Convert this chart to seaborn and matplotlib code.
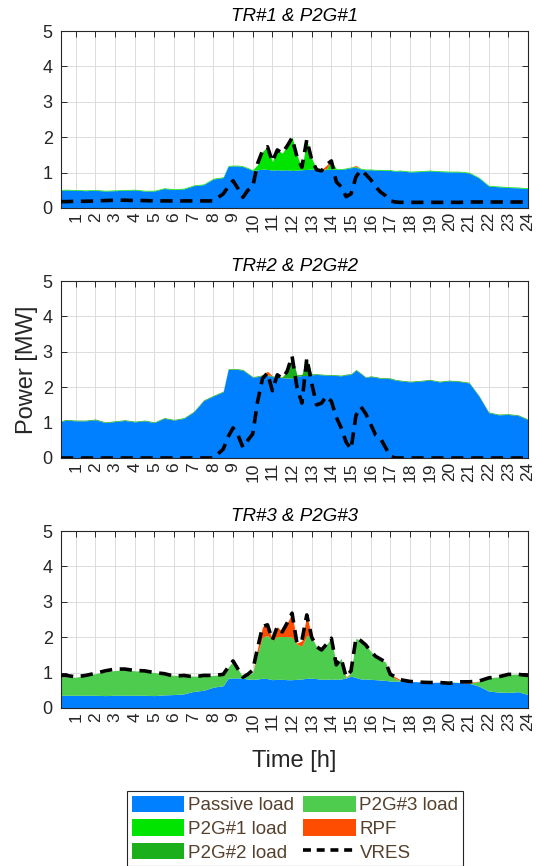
import numpy as np
import pandas as pd
import matplotlib
matplotlib.use("Agg")
import matplotlib.pyplot as plt
import seaborn as sns
from matplotlib.patches import Patch
from matplotlib.lines import Line2D

# ---------------- data ----------------
time_h = [0.25, 0.5, 1.0, 1.5, 2.0, 2.5, 3.0, 3.5, 4.0, 4.5, 5.0, 5.5, 6.0, 6.5, 7.0, 7.5, 8.0, 8.5,
          8.75, 9.0, 9.25, 9.5, 9.75, 10.0, 10.25, 10.5, 10.75, 11.0, 11.25, 11.5, 11.75, 12.0,
          12.25, 12.5, 12.75, 13.0, 13.25, 13.5, 13.75, 14.0, 14.25, 14.5, 14.75, 15.0, 15.25,
          15.5, 15.75, 16.0, 16.25, 16.5, 16.75, 17.0, 17.25, 17.5,
          18.0, 18.5, 19.0, 19.5, 20.0, 20.5, 21.0, 21.5, 22.0, 22.5, 23.0, 23.5, 24.0]

hour_ticks = list(range(1, 25))
y_ticks = [0, 1, 2, 3, 4, 5]
panel_titles = ["TR#1 & P2G#1", "TR#2 & P2G#2", "TR#3 & P2G#3"]
legend_labels = ["Passive load", "P2G#1 load", "P2G#2 load", "P2G#3 load", "RPF", "VRES"]

# Panel 1: TR#1 & P2G#1
passive_1 = [0.50, 0.51, 0.50, 0.49, 0.50, 0.48, 0.49, 0.50, 0.51, 0.48, 0.48, 0.55, 0.52, 0.54, 0.63, 0.66, 0.82, 0.86,
             1.18, 1.19, 1.19, 1.17, 1.12, 1.06, 1.08, 1.10, 1.09, 1.07, 1.08, 1.07, 1.08, 1.06,
             1.07, 1.08, 1.09, 1.10, 1.08, 1.07, 1.09, 1.10, 1.09, 1.09, 1.11, 1.14, 1.15,
             1.10, 1.08, 1.08, 1.07, 1.07, 1.06, 1.06, 1.04, 1.05,
             1.02, 1.03, 1.05, 1.03, 1.02, 1.02, 0.99, 0.85, 0.62, 0.60, 0.58, 0.57, 0.55]
p2g_1 = [0.02, 0.02, 0.02, 0.02, 0.02, 0.02, 0.02, 0.02, 0.02, 0.02, 0.02, 0.02, 0.02, 0.02, 0.02, 0.02, 0.02, 0.02,
         0.02, 0.02, 0.02, 0.02, 0.02, 0.02, 0.15, 0.50, 0.64, 0.24, 0.56, 0.48, 0.67, 0.95,
         0.43, 0.04, 0.84, 0.30, 0.02, 0.02, 0.02, 0.23, 0.02, 0.02, 0.02, 0.02, 0.02,
         0.02, 0.02, 0.02, 0.02, 0.02, 0.02, 0.02, 0.02, 0.02,
         0.02, 0.02, 0.02, 0.02, 0.02, 0.02, 0.02, 0.02, 0.02, 0.02, 0.02, 0.02, 0.02]
rpf_1 = [0.0] * 38 + [0.10] + [0.0] * 5 + [0.03] + [0.0] * 22
vres_1 = [0.18, 0.18, 0.19, 0.19, 0.20, 0.21, 0.22, 0.22, 0.21, 0.21, 0.20, 0.20, 0.20, 0.20, 0.20, 0.20, 0.20, 0.40,
          0.60, 0.77, 0.55, 0.30, 0.50, 0.60, 1.26, 1.62, 1.73, 1.31, 1.64, 1.55, 1.75, 1.98,
          1.45, 1.15, 1.93, 1.36, 1.08, 1.05, 1.22, 1.33, 0.74, 0.60, 0.32, 0.40, 0.88,
          1.07, 0.95, 0.80, 0.60, 0.45, 0.35, 0.20, 0.17, 0.16,
          0.16, 0.16, 0.16, 0.16, 0.16, 0.16, 0.17, 0.17, 0.17, 0.17, 0.17, 0.17, 0.17]

# Panel 2: TR#2 & P2G#2
passive_2 = [1.03, 1.07, 1.05, 1.05, 1.08, 1.00, 1.03, 1.06, 1.02, 1.05, 1.00, 1.12, 1.07, 1.12, 1.30, 1.62, 1.75, 1.87,
             2.50, 2.50, 2.50, 2.48, 2.38, 2.28, 2.30, 2.33, 2.33, 2.30, 2.28, 2.27, 2.26, 2.26,
             2.30, 2.33, 2.33, 2.35, 2.36, 2.35, 2.34, 2.34, 2.33, 2.32, 2.35, 2.36, 2.48,
             2.38, 2.27, 2.30, 2.28, 2.25, 2.25, 2.24, 2.20, 2.18,
             2.15, 2.17, 2.20, 2.15, 2.18, 2.16, 2.12, 1.75, 1.28, 1.22, 1.23, 1.20, 1.08]
p2g_2 = [0.02] * 30 + [0.19, 0.62, 0.05, 0.03, 0.49, 0.03] + [0.02] * 31
rpf_2 = [0.0] * 26 + [0.10] + [0.0] * 40
vres_2 = [0.0] * 17 + [0.25,
          0.60, 0.85, 0.65, 0.30, 0.50, 0.68, 1.60, 2.25, 2.40, 1.90, 2.35, 2.25, 2.45, 2.88,
          2.00, 1.55, 2.82, 2.10, 1.50, 1.55, 1.75, 1.60, 1.15, 0.85, 0.45, 0.25, 1.20,
          1.45, 1.25, 0.95, 0.65, 0.55, 0.30, 0.05, 0.0, 0.0] + [0.0] * 13

# Panel 3: TR#3 & P2G#3
passive_3 = [0.36, 0.36, 0.36, 0.36, 0.36, 0.35, 0.36, 0.36, 0.36, 0.36, 0.35, 0.37, 0.38, 0.40, 0.47, 0.50, 0.59, 0.63,
             0.84, 0.85, 0.85, 0.84, 0.82, 0.81, 0.82, 0.84, 0.83, 0.80, 0.81, 0.81, 0.80, 0.80,
             0.81, 0.82, 0.84, 0.84, 0.83, 0.81, 0.81, 0.82, 0.81, 0.82, 0.85, 0.90, 0.86,
             0.82, 0.82, 0.81, 0.80, 0.79, 0.78, 0.76, 0.76, 0.76,
             0.75, 0.74, 0.72, 0.73, 0.73, 0.72, 0.70, 0.62, 0.48, 0.45, 0.44, 0.46, 0.38]
p2g_3 = [0.52, 0.52, 0.51, 0.56, 0.61, 0.67, 0.70, 0.72, 0.69, 0.68, 0.65, 0.60, 0.54, 0.52, 0.43, 0.40, 0.33, 0.32,
         0.31, 0.47, 0.25, 0.03, 0.10, 0.19, 0.73, 1.16, 1.22, 1.12, 1.21, 1.21, 1.22, 1.20,
         0.99, 0.93, 1.21, 1.16, 0.90, 0.83, 0.99, 1.15, 0.41, 0.58, 0.00, 0.10, 1.11,
         1.08, 0.96, 0.79, 0.66, 0.59, 0.52, 0.19, 0.07, 0.02,
         0.00, 0.00, 0.00, 0.00, 0.01, 0.00, 0.00, 0.13, 0.37, 0.43, 0.51, 0.50, 0.54]
rpf_3 = [0.0] * 24 + [0.15, 0.30, 0.30, 0.00, 0.28, 0.13, 0.38, 0.68, 0.03, 0.15, 0.58] + [0.0] * 7 + \
        [0.03] + [0.0] * 9 + [0.05, 0.02] + [0.0] * 6 + [0.02, 0.01] + [0.0] * 5
vres_3 = [0.92, 0.92, 0.88, 0.92, 0.98, 1.05, 1.10, 1.10, 1.06, 1.05, 1.00, 0.97, 0.90, 0.92, 0.88, 0.92, 0.92, 0.95,
          1.15, 1.33, 1.10, 0.87, 0.95, 1.07, 1.70, 2.30, 2.35, 1.92, 2.30, 2.15, 2.40, 2.68,
          1.83, 1.90, 2.63, 2.00, 1.73, 1.64, 1.80, 1.97, 1.22, 1.40, 0.88, 1.05, 1.97,
          1.90, 1.78, 1.60, 1.46, 1.38, 1.30, 0.95, 0.88, 0.80,
          0.75, 0.73, 0.72, 0.72, 0.70, 0.74, 0.74, 0.76, 0.85, 0.88, 0.95, 0.95, 0.92]

# ---------------- style ----------------
C_PASSIVE = "#0080FF"
C_P2G = ["#00E400", "#1BAF1B", "#4DCC4D"]
C_RPF = "#FF4D00"
TXT = "#262626"
LEG_TXT = "#55412D"

sns.set_theme(style="ticks")
plt.rcParams["font.family"] = ["Liberation Sans", "DejaVu Sans"]

fig = plt.figure(figsize=(5.36, 8.66), dpi=100)
left, width, height = 61 / 536, 467 / 536, 177 / 866
bottoms = [(866 - 208) / 866, (866 - 458) / 866, (866 - 708) / 866]

panels = [
    (passive_1, p2g_1, rpf_1, vres_1),
    (passive_2, p2g_2, rpf_2, vres_2),
    (passive_3, p2g_3, rpf_3, vres_3),
]

axes = []
for i, (pas, p2g, rpf, vres) in enumerate(panels):
    ax = fig.add_axes([left, bottoms[i], width, height])
    axes.append(ax)
    ax.stackplot(time_h, pas, p2g, rpf, colors=[C_PASSIVE, C_P2G[i], C_RPF],
                 linewidth=0, zorder=2)
    df = pd.DataFrame({"t": time_h, "vres": vres})
    sns.lineplot(data=df, x="t", y="vres", ax=ax, color="black", lw=2.6,
                 zorder=3, legend=False, errorbar=None)
    ax.lines[-1].set_dashes([3.4, 2.1])
    ax.set_xlim(0.25, 24)
    ax.set_ylim(0, 5)
    ax.set_xticks(hour_ticks)
    ax.set_xticklabels([str(h) for h in hour_ticks], rotation=90)
    ax.set_yticks(y_ticks)
    ax.grid(True, color="#DCDCDC", lw=0.7)
    ax.set_axisbelow(True)
    ax.tick_params(axis="both", direction="in", top=True, right=True, length=4,
                   width=0.7, color=TXT, labelcolor=TXT, labelsize=13)
    ax.tick_params(axis="x", pad=3, labelsize=12.5)
    ax.tick_params(axis="y", pad=6)
    for sp in ax.spines.values():
        sp.set_color(TXT)
        sp.set_linewidth(0.8)
        sp.set_visible(True)
    ax.set_xlabel("")
    ax.set_ylabel("")
    ax.set_title(panel_titles[i], fontsize=13.5, style="italic", pad=7, color="black")

axes[1].set_ylabel("Power [MW]", fontsize=17, color=TXT)
axes[1].yaxis.set_label_coords(-0.05, 0.5)
axes[2].set_xlabel("Time [h]", fontsize=17, color=TXT)
axes[2].xaxis.set_label_coords(0.5, -0.235)

handles = [
    Patch(facecolor=C_PASSIVE, edgecolor="none"),
    Patch(facecolor=C_P2G[0], edgecolor="none"),
    Patch(facecolor=C_P2G[1], edgecolor="none"),
    Patch(facecolor=C_P2G[2], edgecolor="none"),
    Patch(facecolor=C_RPF, edgecolor="none"),
    Line2D([0], [0], color="black", lw=2.6, dashes=[2.2, 1.6]),
]
leg = fig.legend(handles, legend_labels, ncol=2, loc="upper center",
                 bbox_to_anchor=(0.5504, 1 - 791 / 866), fontsize=13.5,
                 frameon=True, fancybox=False, framealpha=1, edgecolor=TXT,
                 borderpad=0.25, handlelength=2.8, handleheight=1.0,
                 handletextpad=0.2, columnspacing=0.5, labelspacing=0.25,
                 borderaxespad=0, labelcolor=LEG_TXT)
leg.get_frame().set_linewidth(0.8)

fig.savefig("out.png", dpi=100)
